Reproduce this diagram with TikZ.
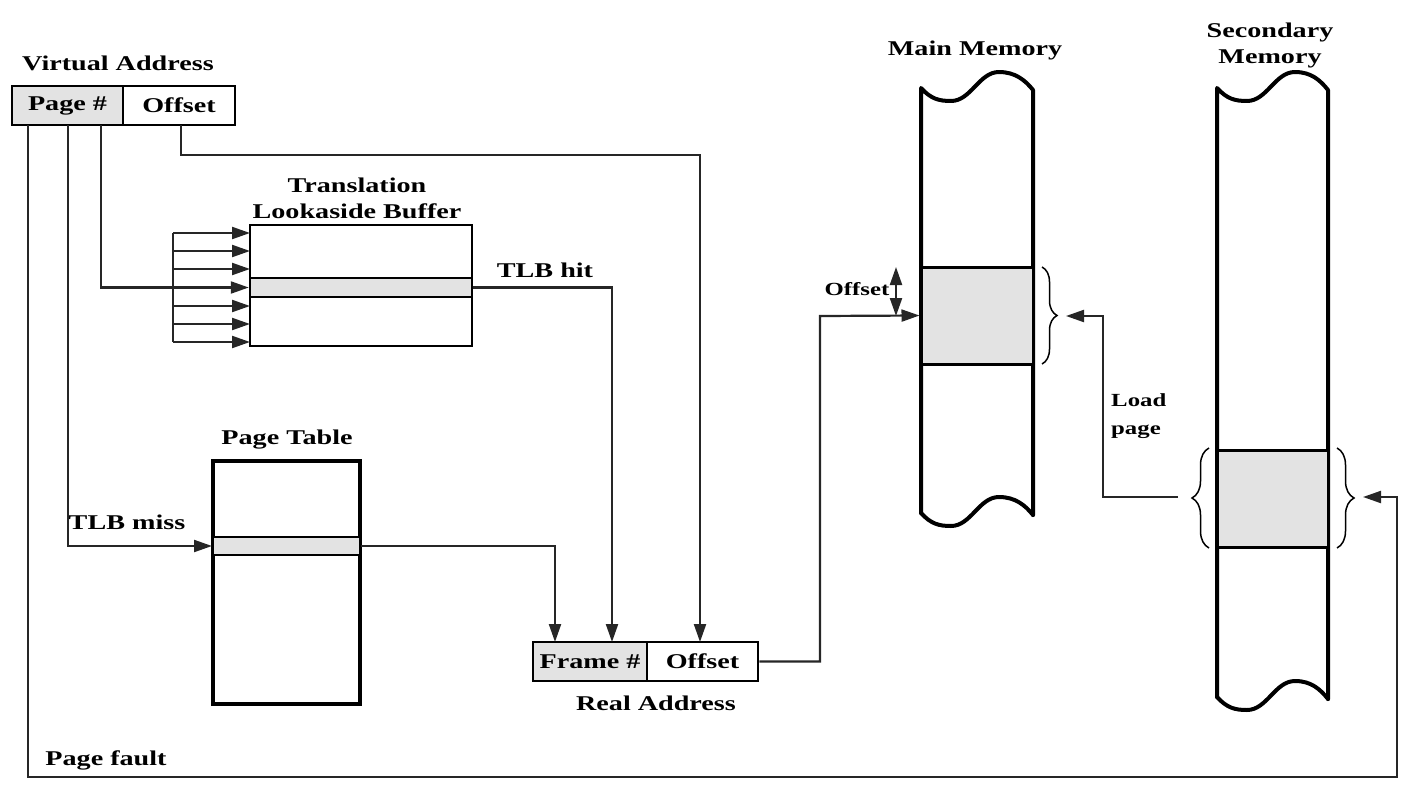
\documentclass[tikz,border=0pt]{standalone}
\usepackage{fontspec}
\setmainfont{Liberation Serif}[FakeStretch=1.34]
\usetikzlibrary{arrows.meta,decorations.pathreplacing,calc}
\begin{document}
\begin{tikzpicture}[x=1pt,y=-1pt,
  txt/.style={font=\bfseries\fontsize{21}{26}\selectfont, inner sep=0pt},
  stxt/.style={font=\bfseries\fontsize{18.5}{28}\selectfont, inner sep=0pt},
  cell/.style={draw=black, line width=2.5pt, minimum height=39pt, inner sep=0pt, font=\bfseries\fontsize{21}{24}\selectfont},
  shade/.style={fill=black!11},
  conn/.style={line width=2.2pt, draw=black!85},
  tip/.tip={Triangle[length=18pt,width=12pt]},
  arr/.style={conn, -tip},
  mem/.style={line width=4pt, line cap=round, line join=round},
  brc/.style={decorate, decoration={brace, amplitude=#1}, line width=1.5pt},
  brc/.default=13pt,
  wave/.style={insert path={.. controls +(10,11) and +(-12,0) .. ++(30,13) .. controls +(20,0) and +(-20,0) .. ++(48,-29) .. controls +(16,0) and +(-8,-10) .. ++(#1,18)}}
]
\useasboundingbox (0,0) rectangle (1410,800);

% Virtual address
\node[txt] (vat) at (118,63) {Virtual Address};
\node[cell, shade, minimum width=111pt] (vapg) at (67.5,105.5) {Page \#};
\node[cell, minimum width=112pt] (vaoff) at (179,105.5) {Offset};

% TLB
\node[txt, align=center] (tlbt) at (357,198) {Translation\\Lookaside Buffer};
\node[draw, line width=2.5pt, minimum width=222pt, minimum height=121pt] (tlb) at (361,285.5) {};
\node[draw, shade, line width=2.5pt, minimum width=222pt, minimum height=19pt] (tlbrow) at (361,287.5) {};
\coordinate (bartop) at (173,233);
\coordinate (barbot) at (173,342);
\draw[conn] (bartop) -- (barbot);
\foreach \yy in {233,251,269,306,324,342} {\draw[arr] (173,\yy) -- (250,\yy);}

% Page table
\node[txt] (ptt) at (287,440) {Page Table};
\node[draw, line width=4pt, minimum width=147pt, minimum height=243pt] (pt) at (286.5,582.5) {};
\node[draw, shade, line width=2pt, minimum width=147pt, minimum height=18pt] (ptrow) at (286.5,546) {};

% Real address
\node[cell, shade, minimum width=114pt] (rafr) at (590,661.5) {Frame \#};
\node[cell, minimum width=111pt] (raoff) at (702.5,661.5) {Offset};
\node[txt] (rat) at (656,703) {Real Address};

% Main memory
\node[txt] (mmt) at (975,50) {Main Memory};
\draw[mem] (921,513) -- (921,88) [wave=34] -- (1033,515);
\draw[mem] (921,513) [wave=34];
\node[draw, shade, line width=3pt, minimum width=112pt, minimum height=97pt] (mmblk) at (977,315.5) {};

% Secondary memory
\node[txt, align=center] (smt) at (1270,45) {Secondary\\Memory};
\draw[mem] (1217,697) -- (1217,88) [wave=33] -- (1328,699);
\draw[mem] (1217,697) [wave=33];
\node[draw, shade, line width=3pt, minimum width=111pt, minimum height=97pt] (smblk) at (1272.5,498.5) {};

% braces
\draw[brc=15pt] (1042,267) -- (1042,364);
\draw[brc=17pt] (1209,548) -- (1209,448);
\draw[brc=17pt] (1337,448) -- (1337,548);
\coordinate (mmbr) at (1066,316);
\coordinate (smbl) at (1178,497);
\coordinate (smbr) at (1363,497);

% connectors
\draw[arr] (101,125) |- (tlbrow.west);
\draw[arr] (68,125) |- (ptrow.west);
\draw[arr] (181,125) |- (700,155) -- (700,642);
\draw[arr] (tlbrow.east) -| (612,642);
\draw[arr] (ptrow.east) -| (555,642);
\draw[arr] (raoff.east) -| (820,316) -- (mmblk.west);
\draw[arr] (smbl) -| (1103,316) -- (mmbr);
\draw[arr] (28,125) |- (1397,777) -- (1397,497) -- (smbr);
\draw[conn, tip-tip] (896,267) -- (896,316);

% labels
\node[txt] (hit) at (545,270) {TLB hit};
\node[txt] (miss) at (127,522) {TLB miss};
\node[stxt] (offl) at (857,289) {Offset};
\node[stxt, align=left, anchor=west] (ldp) at (1111,416) {Load\\page};
\node[txt] (pf) at (106,760) {Page fault};
\end{tikzpicture}
\end{document}
